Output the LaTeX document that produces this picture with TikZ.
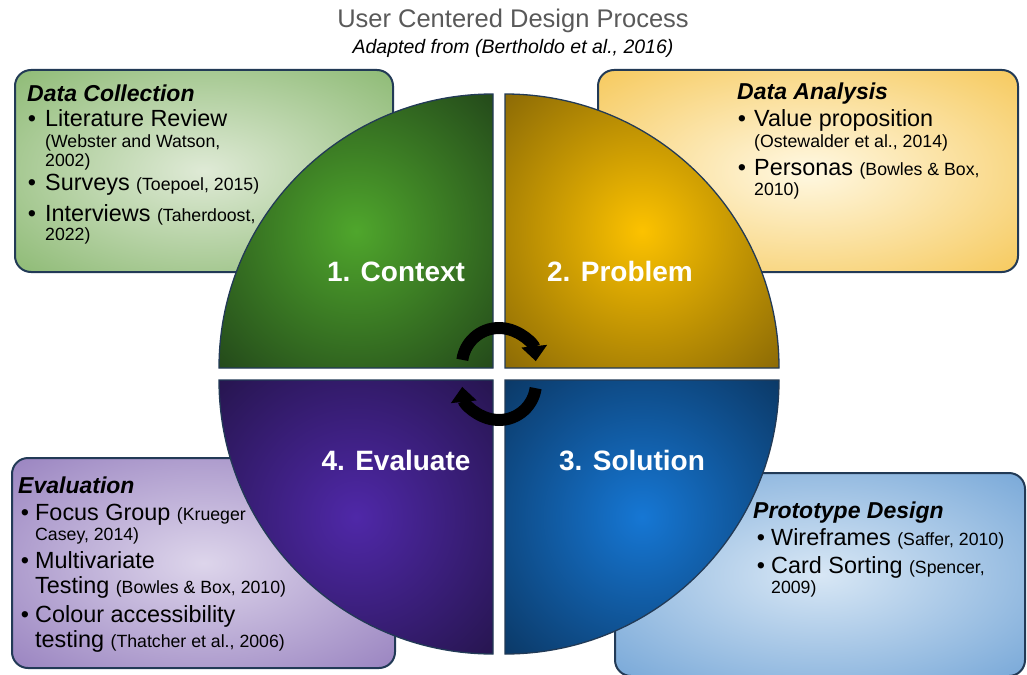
\documentclass[tikz,border=0pt]{standalone}
\usepackage{fontspec}
\setmainfont{Liberation Sans}
\usetikzlibrary{arrows.meta}

% radial glow whose colours are read when the shading is used
\definecolor{cin}{HTML}{FFFFFF}
\definecolor{cout}{HTML}{000000}
\pgfdeclareradialshading[cin,cout]{glow}{\pgfpoint{0bp}{0bp}}%
  {color(0bp)=(cin); color(36bp)=(cout); color(50bp)=(cout)}

\definecolor{edgeblue}{HTML}{223A56}
\definecolor{titlegray}{HTML}{595959}

\newcommand\citesz{\fontsize{17.7}{21}\selectfont}

\tikzset{
  glowfill/.style 2 args={shade, shading=glow,
    /utils/exec={\definecolor{cin}{HTML}{#1}\definecolor{cout}{HTML}{#2}}},
  infobox/.style={draw=edgeblue, line width=2pt, rounded corners=16pt},
  quad/.style={draw=edgeblue, line width=1.3pt},
  hd/.style={anchor=base west, inner sep=0pt,
    font=\fontsize{23}{27}\selectfont\bfseries\itshape},
  item/.style={anchor=base west, inner sep=0pt, font=\fontsize{23.4}{27}\selectfont},
  cite/.style={anchor=base west, inner sep=0pt, font=\citesz},
  bul/.style={anchor=base, inner sep=0pt, font=\fontsize{23.4}{27}\selectfont},
  qlabel/.style={anchor=base, inner sep=0pt, text=white,
    font=\fontsize{28}{32}\selectfont\bfseries},
  cycle arrow/.style={line width=12pt, black,
    -{Triangle[width=25pt,length=15pt]}}
}

\begin{document}
\begin{tikzpicture}[x=1pt,y=-1pt]
\useasboundingbox (0,0) rectangle (1027,674);

% title
\node[anchor=base, inner sep=0pt, text=titlegray,
  font=\fontsize{25.5}{30}\selectfont] (title) at (513,28) {User Centered Design Process};
\node[anchor=base, inner sep=0pt, font=\fontsize{19.5}{23}\selectfont\itshape]
  (subtitle) at (513,54) {Adapted from (Bertholdo et al., 2016)};

% side boxes
\path[infobox, glowfill={DFEAD6}{8DBA74}] (15,70) rectangle (393,272);
\path[infobox, glowfill={FFF8E2}{F6C95C}] (598,70) rectangle (1018,272);
\path[infobox, glowfill={DDD5EB}{9983C0}] (12,458) rectangle (395,668);
\path[infobox, glowfill={D8E7F5}{78A8D8}] (615,473) rectangle (1025,676);

% Data Collection
\node[hd] (dc) at (27,102) {Data Collection};
\node[bul] (dcb1) at (32,127) {•};
\node[item] (dc1) at (45,127) {Literature Review};
\node[cite] (dc1a) at (45,147) {(Webster and Watson,};
\node[cite] (dc1b) at (45,166) {2002)};
\node[bul] (dcb2) at (32,190) {•};
\node[item] (dc2) at (45,190) {Surveys {\citesz (Toepoel, 2015)}};
\node[bul] (dcb3) at (32,221) {•};
\node[item] (dc3) at (45,221) {Interviews {\citesz (Taherdoost,}};
\node[cite] (dc3a) at (45,240) {2022)};

% Data Analysis
\node[hd] (da) at (737,100) {Data Analysis};
\node[bul] (dab1) at (742,127) {•};
\node[item] (da1) at (754,127) {Value proposition};
\node[cite] (da1a) at (754,147) {(Ostewalder et al., 2014)};
\node[bul] (dab2) at (742,175) {•};
\node[item] (da2) at (754,175) {Personas {\citesz (Bowles \& Box,}};
\node[cite] (da2a) at (754,195) {2010)};

% Evaluation
\node[hd] (ev) at (18,493) {Evaluation};
\node[bul] (evb1) at (25,520) {•};
\node[item] (ev1) at (35,520) {Focus Group {\citesz (Krueger}};
\node[cite] (ev1a) at (35,540) {Casey, 2014)};
\node[bul] (evb2) at (25,568) {•};
\node[item] (ev2) at (35,568) {Multivariate};
\node[item] (ev2a) at (35,593) {Testing {\citesz (Bowles \& Box, 2010)}};
\node[bul] (evb3) at (25,622) {•};
\node[item] (ev3) at (35,622) {Colour accessibility};
\node[item] (ev3a) at (35,647) {testing {\citesz (Thatcher et al., 2006)}};

% Prototype Design
\node[hd] (pd) at (753,518) {Prototype Design};
\node[bul] (pdb1) at (761,545) {•};
\node[item] (pd1) at (771,545) {Wireframes {\citesz (Saffer, 2010)}};
\node[bul] (pdb2) at (761,573) {•};
\node[item] (pd2) at (771,573) {Card Sorting {\citesz (Spencer,}};
\node[cite] (pd2a) at (771,593) {2009)};

% the four quadrants of the cycle
\path[quad, glowfill={4FA62C}{23481A}]
  (493,368) -- ++(-274,0) arc[start angle=180, end angle=270, radius=274] -- cycle;
\path[quad, glowfill={FCC200}{8A6906}]
  (505,368) -- ++(0,-274) arc[start angle=270, end angle=360, radius=274] -- cycle;
\path[quad, glowfill={1677D4}{0B3865}]
  (505,380) -- ++(274,0) arc[start angle=0, end angle=90, radius=274] -- cycle;
\path[quad, glowfill={4F28A8}{26154E}]
  (493,380) -- ++(0,274) arc[start angle=90, end angle=180, radius=274] -- cycle;

\node[qlabel] (q1) at (396,281) {1. Context};
\node[qlabel] (q2) at (620,281) {2. Problem};
\node[qlabel] (q3) at (632,470) {3. Solution};
\node[qlabel] (q4) at (396,470) {4. Evaluate};

% circular arrows in the middle
\coordinate (ctop) at (499,365);
\coordinate (cbot) at (499,383);
\draw[cycle arrow] (ctop) ++(188:37) arc[start angle=188, end angle=354, radius=37];
\draw[cycle arrow] (cbot) ++(8:37) arc[start angle=8, end angle=174, radius=37];
\end{tikzpicture}
\end{document}
